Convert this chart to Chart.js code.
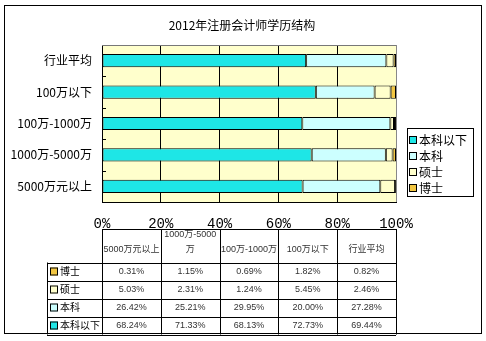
<!DOCTYPE html>
<html>
<head>
<meta charset="utf-8">
<script src="https://cdn.jsdelivr.net/npm/chart.js@4"></script>
<style>
html, body { margin: 0; padding: 0; background: #fff; }
#chart { display: block; }
</style>
</head>
<body>
<canvas id="chart" width="486" height="341"></canvas>
<script>
// 2012年注册会计师学历结构 - 百分比堆积条形图 + 数据表
const chartTitle = '2012年注册会计师学历结构';
const categories = ['5000万元以上', '1000万-5000万', '100万-1000万', '100万以下', '行业平均'];
const headerLines = [['5000万元以上'], ['1000万-5000', '万'], ['100万-1000万'], ['100万以下'], ['行业平均']];
const seriesNames = ['本科以下', '本科', '硕士', '博士'];
const belowBachelor = [68.24, 71.33, 68.13, 72.73, 69.44];
const bachelor = [26.42, 25.21, 29.95, 20.00, 27.28];
const master = [5.03, 2.31, 1.24, 5.45, 2.46];
const doctor = [0.31, 1.15, 0.69, 1.82, 0.82];
const xTicks = [0, 20, 40, 60, 80, 100];

const seriesColors = ['#1EE6E6', '#CCFFFF', '#FFFFCC', '#F2C641'];
const cjk = '"Noto Sans CJK SC", sans-serif';

function hline(ctx, x1, x2, y) {
    ctx.beginPath();
    ctx.moveTo(x1, Math.round(y) + 0.5);
    ctx.lineTo(x2, Math.round(y) + 0.5);
    ctx.stroke();
}
function vline(ctx, x, y1, y2) {
    ctx.beginPath();
    ctx.moveTo(Math.round(x) + 0.5, y1);
    ctx.lineTo(Math.round(x) + 0.5, y2);
    ctx.stroke();
}
function swatch(ctx, x, y, size, color) {
    ctx.fillStyle = color;
    ctx.fillRect(x, y, size, size);
    ctx.strokeStyle = '#000';
    ctx.strokeRect(x + 0.5, y + 0.5, size - 1, size - 1);
}

const extras = {
    id: 'extras',
    beforeDraw(chart) {
        const { ctx, chartArea: a } = chart;
        ctx.save();
        ctx.fillStyle = '#fff';
        ctx.fillRect(0, 0, chart.width, chart.height);
        ctx.fillStyle = '#FFFFCC';
        ctx.fillRect(a.left, a.top, a.right - a.left, a.bottom - a.top);
        ctx.restore();
    },
    afterDraw(chart) {
        const { ctx, chartArea: a } = chart;
        const yScale = chart.scales.y;
        ctx.save();
        ctx.lineWidth = 1;

        // 标题（整张图居中）
        ctx.fillStyle = '#000';
        ctx.font = '12px ' + cjk;
        ctx.textAlign = 'center';
        ctx.textBaseline = 'middle';
        ctx.fillText(chartTitle, 242, 25);

        // 绘图区上边框
        ctx.strokeStyle = '#777';
        hline(ctx, a.left, a.right, a.top);

        // 分类轴内侧刻度
        ctx.strokeStyle = '#000';
        for (let i = 0; i < categories.length - 1; i++) {
            const yb = (yScale.getPixelForValue(i) + yScale.getPixelForValue(i + 1)) / 2;
            hline(ctx, a.left, a.left + 4, yb);
        }

        // 外框
        ctx.strokeRect(4.5, 5.5, 477, 328);

        // 图例
        ctx.strokeRect(407.5, 128.5, 66, 68);
        ctx.font = '12px ' + cjk;
        ctx.textAlign = 'left';
        seriesNames.forEach((name, i) => {
            const cy = 140 + i * 16;
            swatch(ctx, 409, cy - 4, 8, seriesColors[i]);
            ctx.fillStyle = '#000';
            ctx.fillText(name, 419, cy);
        });

        // 数据表
        const colW = (a.right - a.left) / categories.length;
        const tableTop = 229, headBottom = 262.5, rowH = 18, labelLeft = 47;
        const rows = [doctor, master, bachelor, belowBachelor];
        const rowNames = ['博士', '硕士', '本科', '本科以下'];
        const rowColors = [seriesColors[3], seriesColors[2], seriesColors[1], seriesColors[0]];
        const tableBottom = headBottom + rows.length * rowH;

        ctx.strokeStyle = '#000';
        hline(ctx, a.left, a.right, tableTop);
        for (let i = 0; i <= categories.length; i++) {
            vline(ctx, a.left + i * colW, tableTop, tableBottom);
        }
        vline(ctx, labelLeft, headBottom, tableBottom);
        for (let r = 0; r <= rows.length; r++) {
            hline(ctx, labelLeft, a.right, headBottom + r * rowH);
        }

        ctx.textAlign = 'center';
        ctx.fillStyle = '#333';
        ctx.font = '9px "Liberation Sans", ' + cjk;
        headerLines.forEach((lines, i) => {
            const cx = a.left + (i + 0.5) * colW;
            lines.forEach((t, k) => {
                ctx.fillText(t, cx, 250 - (lines.length - 1 - k) * 15);
            });
        });

        rows.forEach((vals, r) => {
            const cy = headBottom + (r + 0.5) * rowH;
            swatch(ctx, labelLeft + 3, cy - 4, 8, rowColors[r]);
            ctx.fillStyle = '#000';
            ctx.textAlign = 'left';
            ctx.font = '10px ' + cjk;
            ctx.fillText(rowNames[r], labelLeft + 13, cy);
            ctx.fillStyle = '#333';
            ctx.textAlign = 'center';
            ctx.font = '9px "Liberation Sans", ' + cjk;
            vals.forEach((v, i) => {
                ctx.fillText(v.toFixed(2) + '%', a.left + (i + 0.5) * colW, cy);
            });
        });
        ctx.restore();
    }
};

const datasetValues = [belowBachelor, bachelor, master, doctor];

new Chart(document.getElementById('chart'), {
    type: 'bar',
    data: {
        labels: categories,
        datasets: seriesNames.map((name, i) => ({
            label: name,
            data: datasetValues[i],
            backgroundColor: seriesColors[i],
            borderColor: '#000',
            borderWidth: 1,
            borderSkipped: false,
            categoryPercentage: 1,
            barPercentage: 0.42
        }))
    },
    options: {
        indexAxis: 'y',
        responsive: false,
        animation: false,
        layout: { padding: { left: 0, right: 90, top: 45, bottom: 0 } },
        plugins: {
            legend: { display: false },
            tooltip: { enabled: false },
            title: { display: false }
        },
        scales: {
            x: {
                type: 'linear',
                stacked: true,
                min: 0,
                max: 100,
                afterBuildTicks: (scale) => { scale.ticks = xTicks.map(v => ({ value: v })); },
                afterFit: (scale) => { scale.height = 139; },
                ticks: {
                    color: '#000',
                    padding: 14,
                    maxRotation: 0,
                    font: { family: '"Liberation Mono", monospace', size: 14 },
                    callback: (v) => v + '%'
                },
                grid: {
                    color: (c) => (c.tick && c.tick.value === 100 ? '#888' : '#000'),
                    drawTicks: false
                },
                border: { color: '#000' }
            },
            y: {
                stacked: true,
                reverse: true,
                afterFit: (scale) => { scale.width = 102; },
                ticks: {
                    color: '#000',
                    padding: 10,
                    font: { family: cjk, size: 12 }
                },
                grid: { drawOnChartArea: false, drawTicks: false },
                border: { color: '#000' }
            }
        }
    },
    plugins: [extras]
});
</script>
</body>
</html>
